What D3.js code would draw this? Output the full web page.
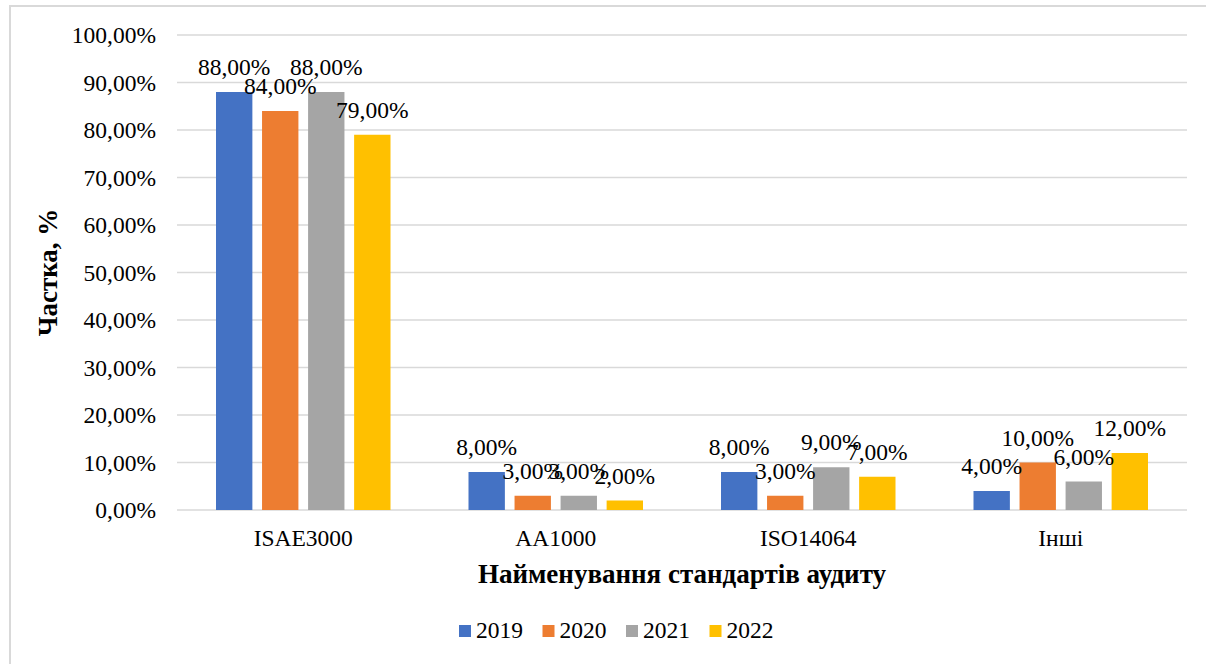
<!DOCTYPE html>
<html>
<head>
<meta charset="utf-8">
<script src="https://cdn.jsdelivr.net/npm/d3@7"></script>
</head>
<body style="margin:0">
<svg id="chart" width="1206" height="664"></svg>
<script>
// Audit standards used in sustainability assurance, share by year
const categories = ["ISAE3000", "AA1000", "ISO14064", "Інші"];
const years = ["2019", "2020", "2021", "2022"];
const colors = ["#4472C4", "#ED7D31", "#A5A5A5", "#FFC000"];
const values2019 = [0.88, 0.08, 0.08, 0.04];
const values2020 = [0.84, 0.03, 0.03, 0.10];
const values2021 = [0.88, 0.03, 0.09, 0.06];
const values2022 = [0.79, 0.02, 0.07, 0.12];
const yTicks = [0, 0.1, 0.2, 0.3, 0.4, 0.5, 0.6, 0.7, 0.8, 0.9, 1.0];
const yTitle = "Частка, %";
const xTitle = "Найменування стандартів аудиту";

const seriesValues = [values2019, values2020, values2021, values2022];
const table = categories.map((c, i) => ({
  category: c,
  values: years.map((y, j) => ({ year: y, color: colors[j], value: seriesValues[j][i] }))
}));

const locale = d3.formatLocale({ decimal: ",", thousands: " ", grouping: [3], currency: ["", ""] });
const pct = locale.format(".2%");

const FONT = "Liberation Serif";
const svg = d3.select("#chart");
const plotLeft = 177, plotRight = 1187, plotTop = 35, plotBottom = 510;
const fontSize = "23.5px";
const titleSize = "27px";

// outer frame (left and top edges)
svg.append("path")
  .attr("d", "M10,664 L10,6 L1206,6")
  .attr("fill", "none")
  .attr("stroke", "#d9d9d9")
  .attr("stroke-width", 2);

const x0 = d3.scaleBand().domain(categories).range([plotLeft, plotRight]).padding(0);
const groupPad = 39;
const x1 = d3.scaleBand().domain(years)
  .range([groupPad, x0.bandwidth() - groupPad])
  .paddingInner(0.21).paddingOuter(0);
const y = d3.scaleLinear().domain([0, 1]).range([plotBottom, plotTop]);

// gridlines
svg.append("g").selectAll("line").data(yTicks).join("line")
  .attr("x1", plotLeft).attr("x2", plotRight)
  .attr("y1", d => y(d)).attr("y2", d => y(d))
  .attr("stroke", "#d9d9d9").attr("stroke-width", 1.6);

// y tick labels
svg.append("g").selectAll("text").data(yTicks).join("text")
  .attr("x", plotLeft - 21)
  .attr("y", d => y(d) + 8)
  .attr("text-anchor", "end")
  .style("font-family", FONT)
  .style("font-size", fontSize)
  .text(d => pct(d));

// bars
const groups = svg.append("g").selectAll("g")
  .data(table).join("g")
  .attr("transform", d => `translate(${x0(d.category)},0)`);

groups.selectAll("rect")
  .data(d => d.values).join("rect")
  .attr("x", d => x1(d.year))
  .attr("y", d => y(d.value))
  .attr("width", x1.bandwidth())
  .attr("height", d => y(0) - y(d.value))
  .attr("fill", d => d.color);

// value labels
groups.selectAll("text.val")
  .data(d => d.values).join("text")
  .attr("class", "val")
  .attr("x", d => x1(d.year) + x1.bandwidth() / 2)
  .attr("y", d => y(d.value) - 17)
  .attr("text-anchor", "middle")
  .style("font-family", FONT)
  .style("font-size", fontSize)
  .text(d => pct(d.value));

// category labels
svg.append("g").selectAll("text").data(categories).join("text")
  .attr("x", d => x0(d) + x0.bandwidth() / 2)
  .attr("y", plotBottom + 36)
  .attr("text-anchor", "middle")
  .style("font-family", FONT)
  .style("font-size", fontSize)
  .text(d => d);

// axis titles
svg.append("text")
  .attr("x", (plotLeft + plotRight) / 2)
  .attr("y", 583)
  .attr("text-anchor", "middle")
  .style("font-family", FONT)
  .style("font-size", titleSize)
  .style("font-weight", "bold")
  .text(xTitle);

svg.append("text")
  .attr("transform", `translate(57,${(plotTop + plotBottom) / 2}) rotate(-90)`)
  .attr("text-anchor", "middle")
  .style("font-family", FONT)
  .style("font-size", titleSize)
  .style("font-weight", "bold")
  .text(yTitle);

// legend
const legend = svg.append("g").attr("transform", "translate(459,625)");
const items = legend.selectAll("g").data(years).join("g")
  .attr("transform", (d, i) => `translate(${i * 83.5},0)`);
items.append("rect").attr("width", 12).attr("height", 12)
  .attr("fill", (d, i) => colors[i]);
items.append("text").attr("x", 17).attr("y", 12.5)
  .style("font-family", FONT)
  .style("font-size", fontSize)
  .text(d => d);
</script>
</body>
</html>
